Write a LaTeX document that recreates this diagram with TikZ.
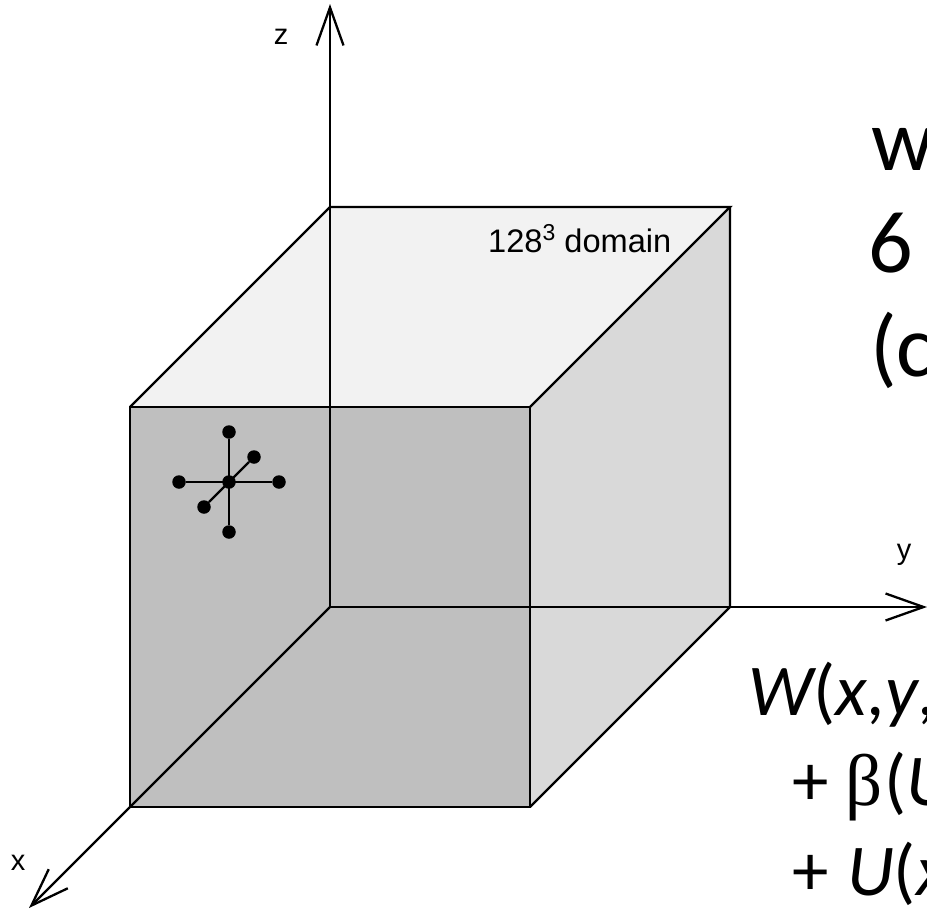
\documentclass[tikz,border=0pt]{standalone}
\usepackage{fontspec}
\setmainfont{Liberation Sans}
\newfontfamily\calib{Carlito}
\newfontfamily\serifg{Liberation Serif}
\usetikzlibrary{arrows.meta}
\definecolor{topface}{HTML}{F2F2F2}
\definecolor{sideface}{HTML}{D9D9D9}
\definecolor{frontface}{HTML}{BFBFBF}
\tikzset{
  edge/.style={draw=black,line width=2.3pt,line join=miter},
  axis/.style={edge,-{Straight Barb[length=38pt,width=27pt,line width=2.3pt]}},
  dot/.style={circle,fill=black,inner sep=0pt,minimum size=13.5pt},
  axlabel/.style={inner sep=0pt,font=\fontsize{29}{29}\selectfont},
  big/.style={anchor=base west,inner sep=0pt,font=\calib\fontsize{88}{88}\selectfont},
  eqn/.style={anchor=base west,inner sep=0pt,font=\calib\fontsize{73}{73}\selectfont}
}
\begin{document}
\begin{tikzpicture}[x=1pt,y=-1pt]
\useasboundingbox (0,0) rectangle (927,910);
\clip (0,0) rectangle (927,910);
\fill[white] (0,0) rectangle (927,910);
% cube corners
\coordinate (ftl) at (130,407);
\coordinate (ftr) at (530,407);
\coordinate (fbl) at (130,807);
\coordinate (fbr) at (530,807);
\coordinate (btl) at (330,207);
\coordinate (btr) at (730,207);
\coordinate (bbl) at (330,607);
\coordinate (bbr) at (730,607);
\coordinate (ztip) at (330,4);
\coordinate (ytip) at (927,607);
\coordinate (xtip) at (29,908);
% faces
\fill[topface] (ftl) -- (btl) -- (btr) -- (ftr) -- cycle;
\fill[sideface] (ftr) -- (btr) -- (bbr) -- (fbr) -- cycle;
\fill[frontface] (ftl) -- (ftr) -- (fbr) -- (fbl) -- cycle;
% edges
\draw[edge] (ftl) -- (ftr) -- (fbr) -- (fbl) -- cycle;
\draw[edge] (ftl) -- (btl) -- (btr) -- (ftr);
\draw[edge] (btr) -- (bbr) -- (fbr);
\draw[edge] (bbl) -- (fbl);
\draw[edge] (bbl) -- (bbr);
% axes
\draw[axis] (btl) -- (ztip);
\draw[edge] (btl) -- (bbl);
\draw[axis] (bbr) -- (ytip);
\draw[axis] (fbl) -- (xtip);
% stencil
\node[dot] (c) at (229,482) {};
\node[dot] (n) at (229,432) {};
\node[dot] (s) at (229,532) {};
\node[dot] (w) at (179,482) {};
\node[dot] (e) at (279,482) {};
\node[dot] (b) at (254,457) {};
\node[dot] (f) at (204,507) {};
\draw[edge] (n) -- (s);
\draw[edge] (w) -- (e);
\draw[edge] (b) -- (f);
% labels
\node[axlabel] (zl) at (281,37) {z};
\node[axlabel] (yl) at (904,555) {y};
\node[axlabel] (xl) at (18,863) {x};
\node[anchor=base west,inner sep=0pt,font=\fontsize{32.6}{32.6}\selectfont] (dom) at (488,252) {128\raisebox{12pt}{\fontsize{23}{23}\selectfont 3} domain};
% right-hand text, cut by the picture edge
\node[big] (t1) at (871,170) {w};
\node[big] (t2) at (868,272) {6};
\node[big] (t3) at (870,376) {(c};
\node[eqn] (e1) at (748,715) {\itshape W\upshape(\itshape x\upshape,\itshape y\upshape,};
\node[eqn] (e2) at (792,805) {+ {\serifg β}\kern2pt(\itshape U};
\node[eqn] (e3) at (792,895) {+ \kern2pt\itshape U\upshape(\itshape x};
\end{tikzpicture}
\end{document}
